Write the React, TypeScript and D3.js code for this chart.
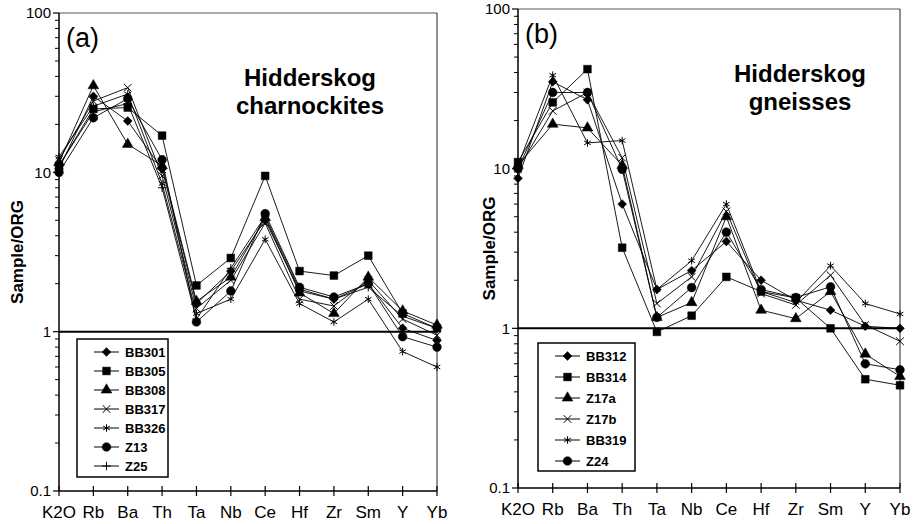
import React from 'react';
import * as d3 from 'd3';

// element order along the x axis
const elements = ['K2O', 'Rb', 'Ba', 'Th', 'Ta', 'Nb', 'Ce', 'Hf', 'Zr', 'Sm', 'Y', 'Yb'];
const yTicks = [0.1, 1, 10, 100];

// (a) Hidderskog charnockites
const bb301 = [10.5, 30, 21, 10.5, 1.5, 2.4, 5.0, 1.8, 1.6, 2.0, 1.05, 0.88];
const bb305 = [11, 25, 25.5, 17, 1.95, 2.9, 9.5, 2.4, 2.25, 3.0, 1.3, 1.05];
const bb308 = [11.5, 35, 15, 11, 1.55, 2.2, 5.2, 1.75, 1.3, 2.2, 1.35, 1.1];
const bb317 = [12, 28, 34, 9.5, 1.4, 2.1, 4.8, 1.6, 1.45, 2.1, 1.2, 0.95];
const bb326 = [12.5, 26, 31, 8.5, 1.3, 1.6, 3.8, 1.5, 1.15, 1.6, 0.75, 0.6];
const z13 = [10, 22, 29, 12, 1.15, 1.8, 5.5, 1.9, 1.65, 2.0, 0.93, 0.8];
const z25 = [11, 24, 27, 8, 1.2, 2.5, 5.3, 1.85, 1.6, 1.9, 1.25, 1.05];

// (b) Hidderskog gneisses
const bb312 = [8.7, 35, 27, 6.0, 1.75, 2.3, 3.5, 2.0, 1.5, 1.3, 1.03, 1.0];
const bb314 = [11, 26, 42, 3.2, 0.95, 1.2, 2.1, 1.7, 1.55, 1.0, 0.48, 0.44];
const z17a = [10.5, 19, 18, 10.5, 1.17, 1.45, 5.0, 1.3, 1.15, 1.7, 0.69, 0.5];
const z17b = [10, 23, 30, 11.7, 1.43, 2.1, 5.4, 1.65, 1.4, 2.15, 1.05, 0.83];
const bb319 = [10.5, 38.5, 14.5, 15, 1.75, 2.65, 6.0, 1.7, 1.45, 2.47, 1.43, 1.23];
const z24 = [10, 30, 30, 9.9, 1.17, 1.8, 4.0, 1.75, 1.56, 1.82, 0.6, 0.55];

type Series = { name: string; values: number[]; marker: string };

const seriesA: Series[] = [
  { name: 'BB301', values: bb301, marker: 'diamond' },
  { name: 'BB305', values: bb305, marker: 'square' },
  { name: 'BB308', values: bb308, marker: 'triangle' },
  { name: 'BB317', values: bb317, marker: 'times' },
  { name: 'BB326', values: bb326, marker: 'asterisk' },
  { name: 'Z13', values: z13, marker: 'circle' },
  { name: 'Z25', values: z25, marker: 'plus' },
];

const seriesB: Series[] = [
  { name: 'BB312', values: bb312, marker: 'diamond' },
  { name: 'BB314', values: bb314, marker: 'square' },
  { name: 'Z17a', values: z17a, marker: 'triangle' },
  { name: 'Z17b', values: z17b, marker: 'times' },
  { name: 'BB319', values: bb319, marker: 'asterisk' },
  { name: 'Z24', values: z24, marker: 'circle' },
];

const FONT = 'Arial, "Liberation Sans", Helvetica, sans-serif';

const markerDefs: Record<string, { type: d3.SymbolType; size: number; filled: boolean }> = {
  diamond: { type: d3.symbolDiamond2, size: 50, filled: true },
  square: { type: d3.symbolSquare, size: 60, filled: true },
  triangle: { type: d3.symbolTriangle, size: 50, filled: true },
  circle: { type: d3.symbolCircle, size: 60, filled: true },
  times: { type: d3.symbolTimes, size: 40, filled: false },
  asterisk: { type: d3.symbolAsterisk, size: 40, filled: false },
  plus: { type: d3.symbolPlus, size: 25, filled: false },
};

const Marker = ({ kind, x, y }: { kind: string; x: number; y: number }) => {
  const m = markerDefs[kind];
  const d = d3.symbol().type(m.type).size(m.size)() || '';
  return (
    <path
      d={d}
      transform={`translate(${x},${y})`}
      fill={m.filled ? '#000' : 'none'}
      stroke="#000"
      strokeWidth={m.filled ? 0.5 : 1}
    />
  );
};

type PanelProps = {
  left: number;
  right: number;
  top: number;
  bottom: number;
  tag: string;
  title: string[];
  titleX: number;
  series: Series[];
  legend: { x: number; y: number; w: number; h: number; step: number; first: number };
  labelX: number;
};

const Panel = ({ left, right, top, bottom, tag, title, titleX, series, legend, labelX }: PanelProps) => {
  const x = d3.scalePoint<string>().domain(elements).range([left, right]);
  const y = d3.scaleLog().domain([0.1, 100]).range([bottom, top]);
  const line = d3
    .line<number>()
    .x((_, i) => x(elements[i]) as number)
    .y((v) => y(v));

  const minor: number[] = [];
  [0.1, 1, 10].forEach((dec) => {
    for (let k = 2; k <= 9; k++) minor.push(dec * k);
  });

  return (
    <g>
      {/* frame */}
      <line x1={left} x2={right} y1={top} y2={top} stroke="#555" strokeWidth={1} />
      <line x1={right} x2={right} y1={top} y2={bottom} stroke="#222" strokeWidth={1} />
      <line x1={left} x2={left} y1={top} y2={bottom} stroke="#000" strokeWidth={1.5} />
      <line x1={left} x2={right} y1={bottom} y2={bottom} stroke="#000" strokeWidth={1.5} />
      {/* reference line at 1 */}
      <line x1={left} x2={right} y1={y(1)} y2={y(1)} stroke="#000" strokeWidth={2} />

      {/* y ticks */}
      {minor.map((v) => (
        <line key={v} x1={left - 4} x2={left} y1={y(v)} y2={y(v)} stroke="#000" strokeWidth={1} />
      ))}
      {yTicks.map((v) => (
        <g key={v}>
          <line x1={left - 6} x2={left} y1={y(v)} y2={y(v)} stroke="#000" strokeWidth={1.2} />
          <text
            x={left - 8}
            y={y(v)}
            dy="0.35em"
            textAnchor="end"
            fontFamily={FONT}
            fontSize={15}
          >
            {v}
          </text>
        </g>
      ))}

      {/* x ticks */}
      {elements.map((e) => (
        <g key={e}>
          <line x1={x(e)} x2={x(e)} y1={bottom - 5} y2={bottom + 5} stroke="#000" strokeWidth={1.2} />
          <text x={x(e)} y={bottom + 27} textAnchor="middle" fontFamily={FONT} fontSize={17}>
            {e}
          </text>
        </g>
      ))}

      {/* y label */}
      <text
        transform={`translate(${labelX},${(top + bottom) / 2}) rotate(-90)`}
        textAnchor="middle"
        fontFamily={FONT}
        fontSize={17}
        fontWeight="bold"
      >
        Sample/ORG
      </text>

      {/* panel tag and title */}
      <text x={left + 7} y={top + 34} fontFamily={FONT} fontSize={27}>
        {tag}
      </text>
      {title.map((t, i) => (
        <text
          key={t}
          x={titleX}
          y={top + 73 + i * 28}
          textAnchor="middle"
          fontFamily={FONT}
          fontSize={24}
          fontWeight="bold"
        >
          {t}
        </text>
      ))}

      {/* series */}
      {series.map((s) => (
        <g key={s.name}>
          <path d={line(s.values) || ''} fill="none" stroke="#000" strokeWidth={0.9} />
          {s.values.map((v, i) => (
            <Marker key={i} kind={s.marker} x={x(elements[i]) as number} y={y(v)} />
          ))}
        </g>
      ))}

      {/* legend */}
      <rect
        x={legend.x}
        y={legend.y}
        width={legend.w}
        height={legend.h}
        fill="#fff"
        stroke="#000"
        strokeWidth={1.5}
      />
      {series.map((s, i) => {
        const ly = legend.y + legend.first + i * legend.step;
        const lx = legend.x + 17;
        return (
          <g key={s.name}>
            <line x1={lx} x2={lx + 25} y1={ly} y2={ly} stroke="#000" strokeWidth={1} />
            <Marker kind={s.marker} x={lx + 12.5} y={ly} />
            <text x={lx + 31} y={ly} dy="0.36em" fontFamily={FONT} fontSize={13} fontWeight="bold">
              {s.name}
            </text>
          </g>
        );
      })}
    </g>
  );
};

export default function App() {
  return (
    <div style={{ position: 'absolute', left: 0, top: 0 }}>
      <svg width={915} height={524} style={{ display: 'block', background: '#fff' }}>
        <Panel
          left={59}
          right={437}
          top={13}
          bottom={491}
          tag="(a)"
          title={['Hidderskog', 'charnockites']}
          titleX={310}
          series={seriesA}
          legend={{ x: 77, y: 339, w: 91, h: 138, step: 19, first: 13 }}
          labelX={23}
        />
        <Panel
          left={518}
          right={900}
          top={9}
          bottom={488}
          tag="(b)"
          title={['Hidderskog', 'gneisses']}
          titleX={800}
          series={seriesB}
          legend={{ x: 538, y: 343, w: 97, h: 128, step: 21, first: 13 }}
          labelX={495}
        />
      </svg>
    </div>
  );
}
